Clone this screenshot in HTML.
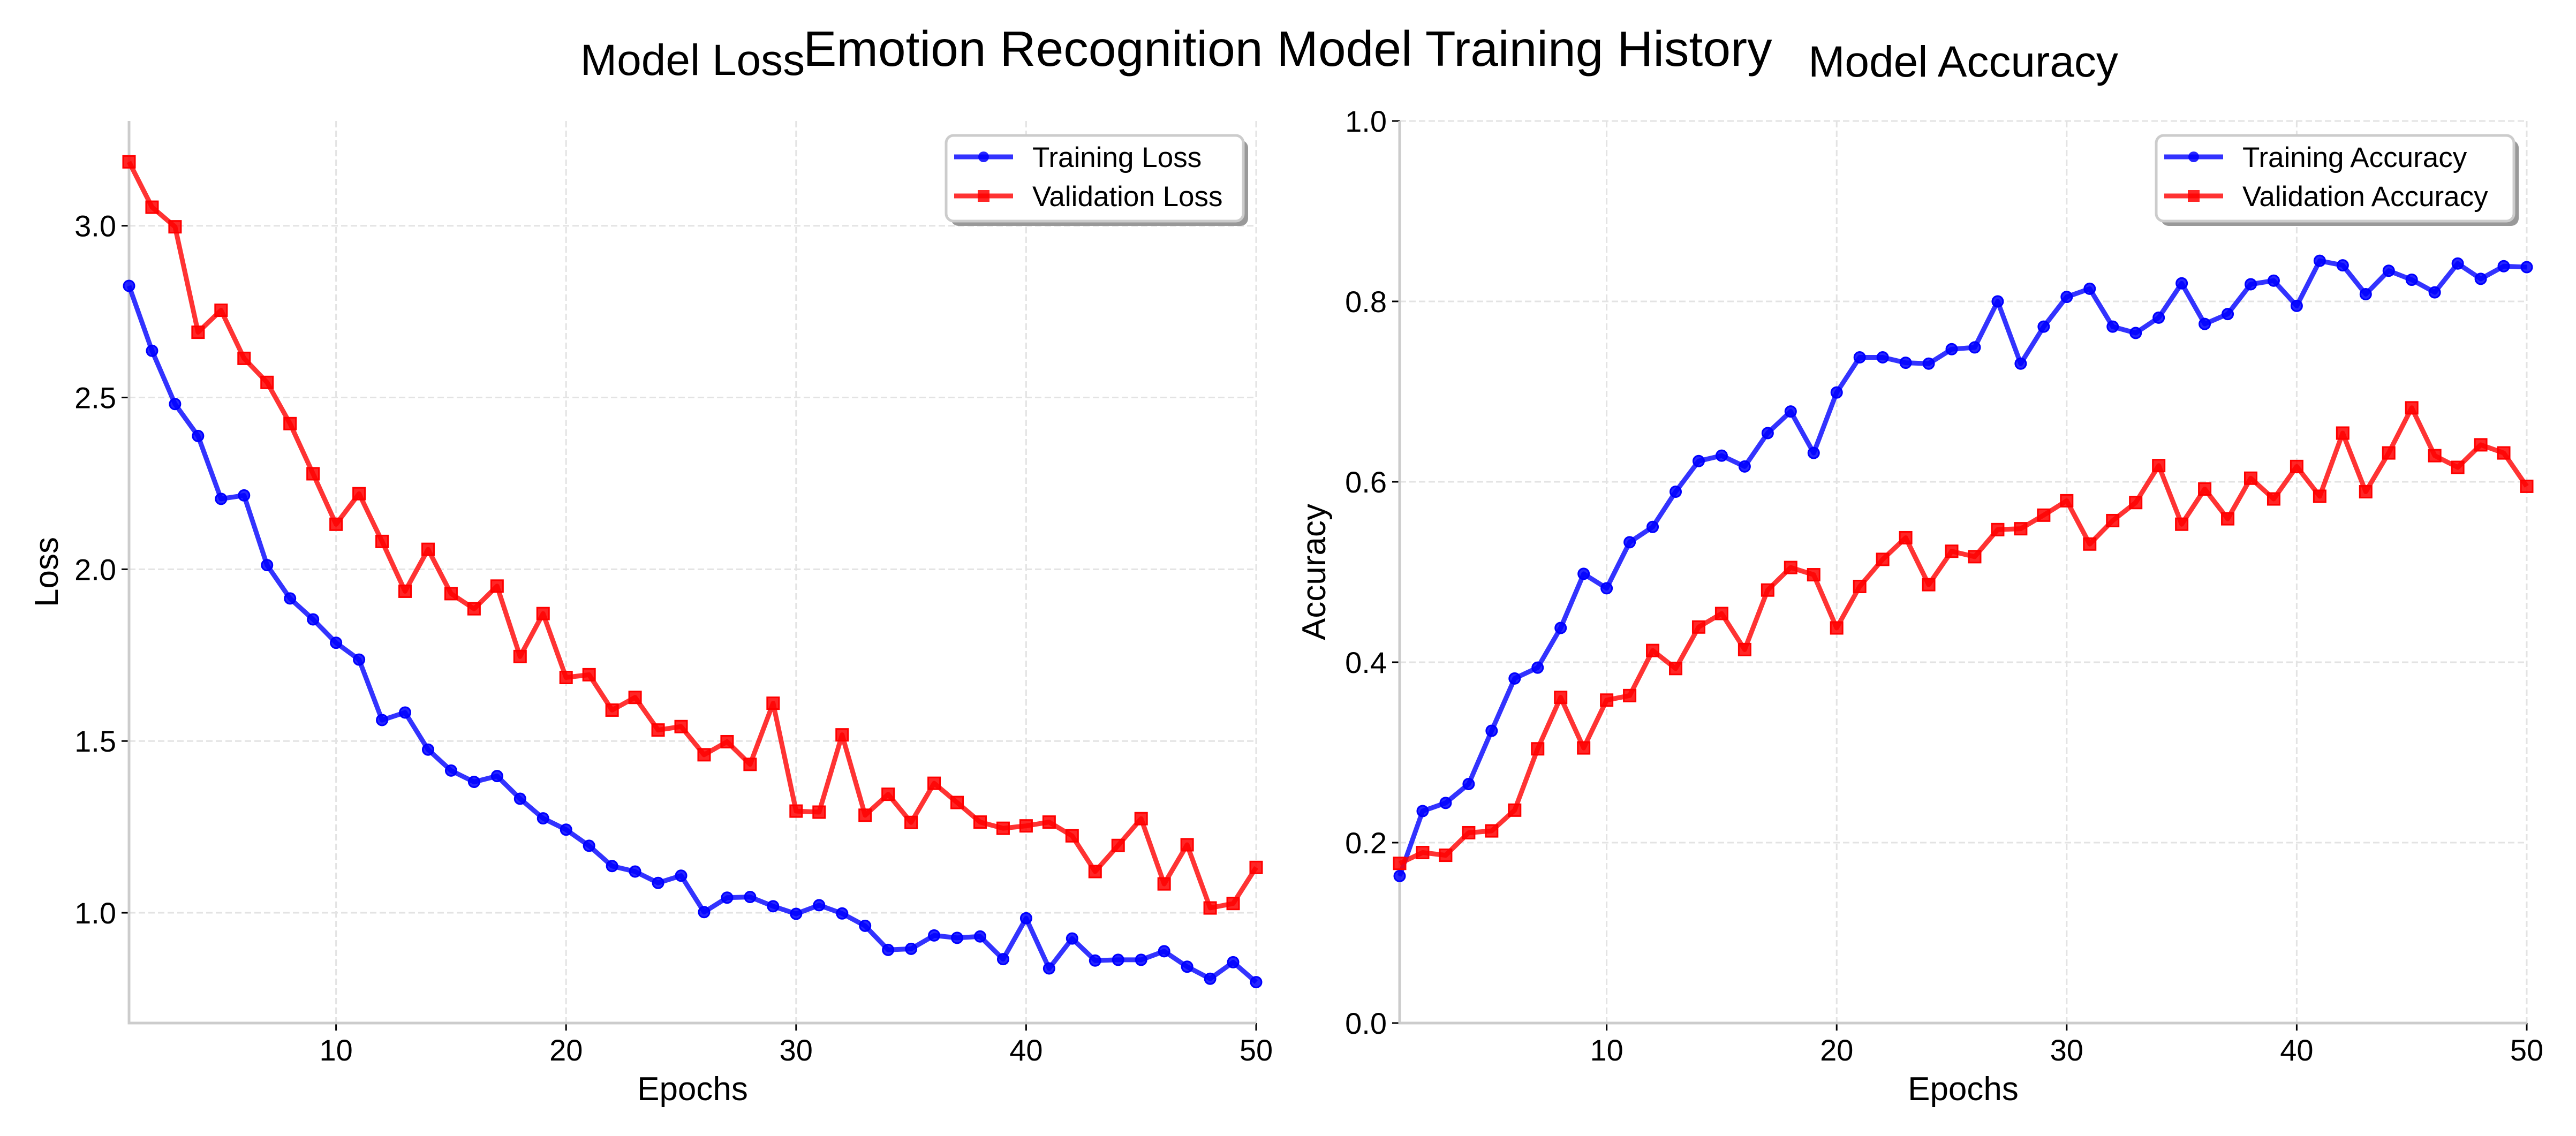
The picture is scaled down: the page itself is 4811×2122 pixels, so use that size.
<!DOCTYPE html>
<html><head><meta charset="utf-8"><style>
html,body{margin:0;padding:0;background:#fff}
svg{display:block}
text{font-family:"Liberation Sans","Noto Sans CJK JP",sans-serif;fill:#000}
</style></head><body>
<svg id="chart" width="4811" height="2122" viewBox="0 0 4811 2122" xmlns="http://www.w3.org/2000/svg">
<rect width="4811" height="2122" fill="#fff"/>
<text x="2405" y="123" font-size="93" text-anchor="middle">Emotion Recognition Model Training History</text>
<g id="g1"></g><g id="g2"></g>
</svg>
<script>
const epochs = Array.from({length:50},(_,i)=>i+1);
const trainLoss = [2.825,2.636,2.481,2.388,2.205,2.215,2.012,1.915,1.854,1.786,1.737,1.561,1.583,1.475,1.414,1.381,1.398,1.332,1.275,1.242,1.195,1.136,1.12,1.087,1.108,1.002,1.044,1.046,1.019,0.997,1.022,0.998,0.962,0.892,0.895,0.934,0.927,0.931,0.865,0.984,0.838,0.925,0.861,0.863,0.863,0.888,0.843,0.808,0.856,0.798];
const valLoss = [3.186,3.054,2.997,2.69,2.754,2.614,2.544,2.424,2.278,2.131,2.22,2.081,1.936,2.058,1.929,1.885,1.951,1.746,1.871,1.685,1.693,1.59,1.627,1.532,1.542,1.46,1.498,1.432,1.61,1.296,1.293,1.518,1.284,1.345,1.263,1.377,1.321,1.264,1.246,1.253,1.264,1.224,1.12,1.196,1.274,1.084,1.198,1.014,1.027,1.132];
const trainAcc = [0.163,0.235,0.244,0.265,0.324,0.382,0.394,0.438,0.498,0.482,0.533,0.55,0.589,0.623,0.629,0.617,0.654,0.678,0.632,0.699,0.738,0.738,0.732,0.731,0.747,0.749,0.8,0.731,0.772,0.805,0.814,0.772,0.765,0.782,0.82,0.775,0.786,0.819,0.823,0.795,0.845,0.84,0.808,0.834,0.824,0.81,0.842,0.825,0.839,0.838];
const valAcc = [0.177,0.189,0.186,0.211,0.213,0.236,0.304,0.361,0.305,0.358,0.363,0.413,0.393,0.439,0.454,0.414,0.48,0.505,0.497,0.438,0.484,0.514,0.538,0.486,0.523,0.517,0.547,0.548,0.563,0.579,0.531,0.557,0.577,0.618,0.553,0.592,0.559,0.604,0.581,0.617,0.584,0.654,0.589,0.632,0.682,0.629,0.616,0.641,0.632,0.595];
const xTicks = [10,20,30,40,50];
const lossTicks = [1.0,1.5,2.0,2.5,3.0];
const accTicks = [0.0,0.2,0.4,0.6,0.8,1.0];

const NS="http://www.w3.org/2000/svg";
function mk(parent,tag,attrs){const e=document.createElementNS(NS,tag);for(const k in attrs)e.setAttribute(k,attrs[k]);parent.appendChild(e);return e;}

function panel(g,o){
  const L=o.left,R=o.left+2105,T=226,B=1911;
  const xs=v=>L+(v-1)/49*(R-L);
  const ys=v=>B-(v-o.ymin)/(o.ymax-o.ymin)*(B-T);
  o.yticks.forEach(t=>{
    const l=mk(g,'line',{x1:L,x2:R,y1:ys(t),y2:ys(t),stroke:'#e3e3e3','stroke-width':3,'stroke-dasharray':'12,6'});
    
    
    const tk=mk(g,'line',{x1:L-14,x2:L,y1:ys(t),y2:ys(t),stroke:'#000','stroke-width':3});
    
    
    const tx=mk(g,'text',{x:L-24,y:ys(t)+20,'font-size':56,'text-anchor':'end'});
    tx.textContent=t.toFixed(1);
    
    
  });
  xTicks.forEach(t=>{
    const l=mk(g,'line',{x1:xs(t),x2:xs(t),y1:T,y2:B,stroke:'#e3e3e3','stroke-width':3,'stroke-dasharray':'12,6'});
    
    
    const tk=mk(g,'line',{x1:xs(t),x2:xs(t),y1:B,y2:B+14,stroke:'#000','stroke-width':3});
    
    
    const tx=mk(g,'text',{x:xs(t),y:B+70,'font-size':56,'text-anchor':'middle'});
    tx.textContent=t;
    
    
  });
  const sp=mk(g,'path',{d:`M${L},${T}V${B}H${R}`,fill:'none',stroke:'#cccccc','stroke-width':5});
  
  
  [[o.train,'#0000ff','circle',o.trainName],[o.val,'#ff0000','square',o.valName]].forEach(([arr,c,m,nm])=>{
    const s=mk(g,'g',{});
    
    
    const d=arr.map((v,i)=>(i?'L':'M')+xs(epochs[i]).toFixed(1)+','+ys(v).toFixed(1)).join('');
    const p=mk(s,'path',{d:d,fill:'none',stroke:c,'stroke-opacity':0.8,'stroke-width':9,'stroke-linejoin':'round'});
    
    
    arr.forEach((v,i)=>{
      let e;
      if(m==='circle') e=mk(s,'circle',{cx:xs(epochs[i]),cy:ys(v),r:10,fill:c,'fill-opacity':0.85,stroke:c,'stroke-width':3});
      else e=mk(s,'rect',{x:xs(epochs[i])-11,y:ys(v)-11,width:22,height:22,fill:c,'fill-opacity':0.85,stroke:c,'stroke-width':3});
      
      
    });
  });
  const tt=mk(g,'text',{x:(L+R)/2,y:o.titleY,'font-size':82,'text-anchor':'middle'});
  tt.textContent=o.title;
  
  
  const xl=mk(g,'text',{x:(L+R)/2,y:2055,'font-size':62,'text-anchor':'middle'});
  xl.textContent='Epochs';
  
  
  const yl=mk(g,'text',{x:0,y:0,'font-size':62,'text-anchor':'middle',transform:`translate(${o.ylabX},${(T+B)/2}) rotate(-90)`});
  yl.textContent=o.ylabel;
  
  
  const lg=mk(g,'g',{});
  
  
  const lx=o.legX,lw=R-24-o.legX;
  mk(lg,'rect',{x:lx+9,y:262,width:lw,height:160,rx:14,fill:'#999'});
  mk(lg,'rect',{x:lx,y:253,width:lw,height:160,rx:14,fill:'#fff',stroke:'#cccccc','stroke-width':5});
  [[o.trainName,'#0000ff','circle',293],[o.valName,'#ff0000','square',366]].forEach(([nm,c,m,yy])=>{
    const e=mk(lg,'g',{});
    
    
    mk(e,'line',{x1:lx+15,x2:lx+125,y1:yy,y2:yy,stroke:c,'stroke-opacity':0.8,'stroke-width':9});
    if(m==='circle') mk(e,'circle',{cx:lx+70,cy:yy,r:10,fill:c,'fill-opacity':0.85});
    else mk(e,'rect',{x:lx+59,y:yy-11,width:22,height:22,fill:c,'fill-opacity':0.85});
    const t=mk(e,'text',{x:lx+161,y:yy+19,'font-size':53});
    t.textContent=nm;
  });
}
panel(document.getElementById('g1'),{left:241,ymin:0.679,ymax:3.305,yticks:lossTicks,train:trainLoss,val:valLoss,trainName:'Training Loss',valName:'Validation Loss',title:'Model Loss',titleY:140,ylabel:'Loss',ylabX:108,legX:1767});
panel(document.getElementById('g2'),{left:2614,ymin:0,ymax:1,yticks:accTicks,train:trainAcc,val:valAcc,trainName:'Training Accuracy',valName:'Validation Accuracy',title:'Model Accuracy',titleY:143,ylabel:'Accuracy',ylabX:2475,legX:4027});
</script>
</body></html>
